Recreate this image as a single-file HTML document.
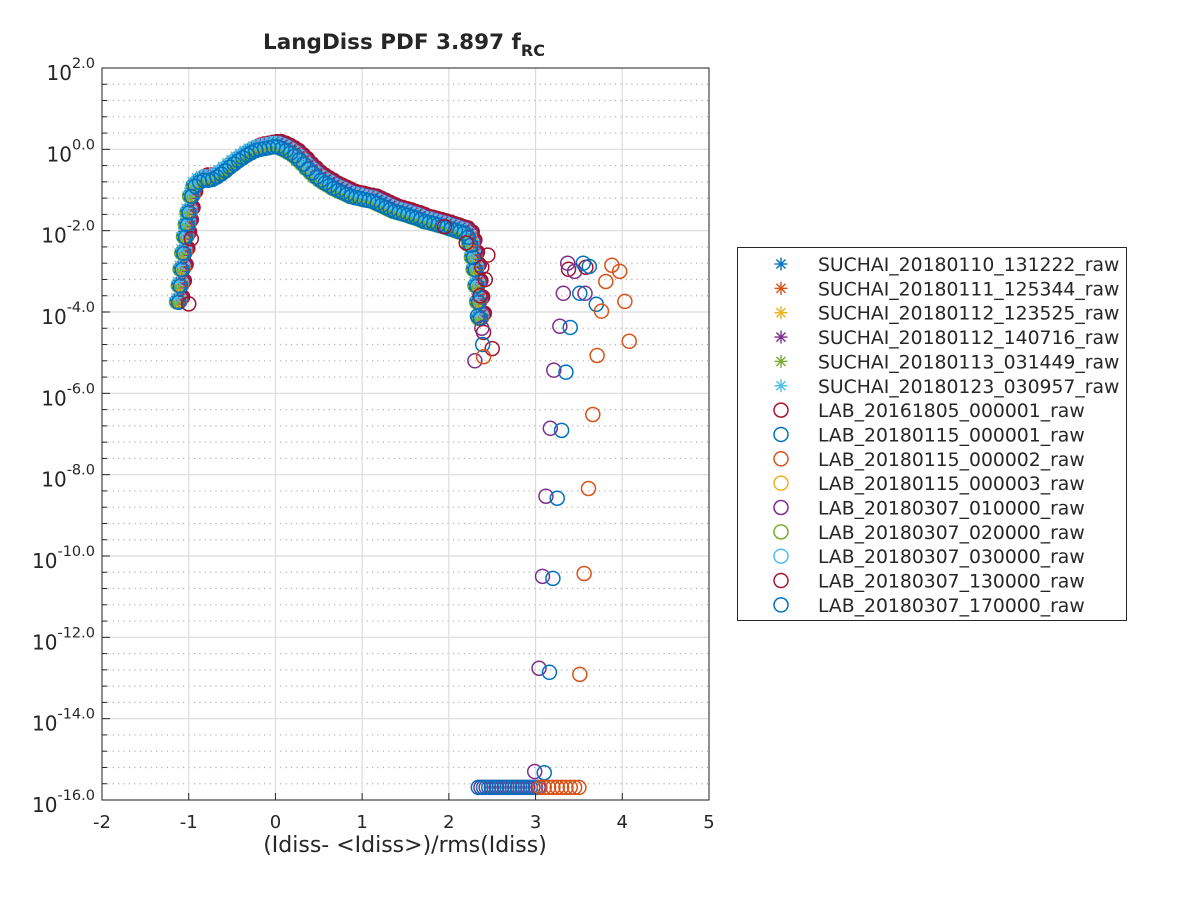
<!DOCTYPE html>
<html><head><meta charset="utf-8">
<style>
body{margin:0;background:#fff;width:1200px;height:900px;overflow:hidden;font-family:"DejaVu Sans","Liberation Sans",sans-serif}
svg text{font-family:"DejaVu Sans","Liberation Sans",sans-serif;fill:#262626}
</style></head>
<body>
<svg id="chart" width="1200" height="900" xmlns="http://www.w3.org/2000/svg">
<rect width="1200" height="900" fill="#fff"/>
<g id="grid"></g>
<g id="marks"></g>
<g id="axes"></g>
<text x="404" y="49" text-anchor="middle" font-size="21.5" font-weight="bold">LangDiss PDF 3.897 f<tspan font-size="16" dy="7">RC</tspan></text>
<text x="405" y="852" text-anchor="middle" font-size="22">(Idiss- &lt;Idiss&gt;)/rms(Idiss)</text>
<g id="legend"></g>
</svg>
<script>
const xTicks=[-2,-1,0,1,2,3,4,5];
const yTicks=[2,0,-2,-4,-6,-8,-10,-12,-14,-16];
const yTickLabels=["2.0","0.0","-2.0","-4.0","-6.0","-8.0","-10.0","-12.0","-14.0","-16.0"];
const seriesNames=["SUCHAI_20180110_131222_raw","SUCHAI_20180111_125344_raw","SUCHAI_20180112_123525_raw","SUCHAI_20180112_140716_raw","SUCHAI_20180113_031449_raw","SUCHAI_20180123_030957_raw","LAB_20161805_000001_raw","LAB_20180115_000001_raw","LAB_20180115_000002_raw","LAB_20180115_000003_raw","LAB_20180307_010000_raw","LAB_20180307_020000_raw","LAB_20180307_030000_raw","LAB_20180307_130000_raw","LAB_20180307_170000_raw"];
const seriesColors=["#0072BD","#D95319","#EDB120","#7E2F8E","#77AC30","#4DBEEE","#A2142F","#0072BD","#D95319","#EDB120","#7E2F8E","#77AC30","#4DBEEE","#A2142F","#0072BD"];
const seriesMarkers=["*","*","*","*","*","*","o","o","o","o","o","o","o","o","o"];
const baseX=[-1.12,-1.1,-1.08,-1.06,-1.04,-1.02,-1.0,-0.97,-0.93,-0.88,-0.83,-0.78,-0.73,-0.68,-0.63,-0.58,-0.53,-0.48,-0.43,-0.38,-0.33,-0.28,-0.23,-0.18,-0.13,-0.08,-0.03,0.02,0.07,0.12,0.17,0.22,0.27,0.32,0.37,0.42,0.47,0.52,0.57,0.62,0.67,0.72,0.77,0.82,0.87,0.92,0.97,1.02,1.07,1.12,1.17,1.22,1.27,1.32,1.37,1.42,1.47,1.52,1.57,1.62,1.67,1.72,1.77,1.82,1.87,1.92,1.97,2.02,2.07,2.12,2.17,2.22,2.25,2.28,2.3,2.32,2.34,2.36];
const baseY=[-3.7,-3.3,-2.9,-2.5,-2.1,-1.8,-1.5,-1.1,-0.85,-0.75,-0.7,-0.7,-0.68,-0.62,-0.55,-0.47,-0.38,-0.3,-0.22,-0.15,-0.08,-0.02,0.03,0.06,0.08,0.1,0.12,0.12,0.08,0.03,-0.03,-0.1,-0.2,-0.3,-0.42,-0.52,-0.62,-0.7,-0.77,-0.83,-0.9,-0.95,-1.0,-1.05,-1.1,-1.13,-1.15,-1.18,-1.2,-1.22,-1.27,-1.32,-1.37,-1.42,-1.47,-1.5,-1.53,-1.56,-1.6,-1.63,-1.67,-1.72,-1.74,-1.77,-1.8,-1.83,-1.86,-1.9,-1.93,-1.97,-2.0,-2.1,-2.3,-2.6,-2.9,-3.3,-3.7,-4.1];
const seriesDx=[0,0.02,-0.02,0.01,-0.03,-0.03,0.04,-0.01,0.02,0,0.03,-0.02,0.01,0.05,0.005];
const seriesDy=[0,0.03,-0.06,0.04,-0.08,0.05,0.05,-0.04,-0.03,0.01,0.03,-0.05,0.02,0.07,-0.06];
const purpleX=[3.37,3.45,3.32,3.57,3.28,3.21,3.17,3.12,3.08,3.04,2.99,2.3,2.38];
const purpleY=[-2.8,-3.0,-3.54,-3.54,-4.35,-5.43,-6.86,-8.53,-10.5,-12.76,-15.3,-5.2,-4.4];
const blueX=[3.55,3.62,3.51,3.7,3.4,3.35,3.3,3.25,3.2,3.16,3.1,2.39,2.33];
const blueY=[-2.8,-2.88,-3.54,-3.81,-4.38,-5.48,-6.91,-8.58,-10.55,-12.86,-15.33,-4.8,-4.1];
const orangeX=[3.88,3.97,3.81,3.76,4.03,4.08,3.71,3.66,3.61,3.56,3.51,2.4];
const orangeY=[-2.85,-3.0,-3.25,-3.98,-3.74,-4.72,-5.07,-6.52,-8.34,-10.43,-12.91,-5.1];
const redX=[2.45,2.38,2.42,2.36,2.4,2.5,3.38,3.58,-1.0,-0.97,2.2,1.95];
const redY=[-2.6,-2.9,-3.2,-3.6,-4.5,-4.9,-2.95,-2.9,-3.8,-2.2,-2.3,-1.9];
const bottomBlueX=[2.34,2.4,2.46,2.52,2.58,2.64,2.7,2.76,2.82,2.88,2.94,3.0];
const bottomPurpleX=[2.37,2.43,2.49,2.55,2.61,2.67,2.73,2.79,2.85,2.91,2.97,3.03];
const bottomOrangeX=[3.05,3.1,3.15,3.2,3.25,3.3,3.35,3.4,3.45,3.5];
const bottomLog=-15.69;

const X0=102,X1=709,Y0=68,Y1=800;
const xs=v=>X0+(v+2)/7*(X1-X0);
const ys=v=>Y0+(2-v)/18*(Y1-Y0);
const NS="http://www.w3.org/2000/svg";
function mk(tag,attrs,parent){const e=document.createElementNS(NS,tag);for(const k in attrs)e.setAttribute(k,attrs[k]);parent.appendChild(e);return e;}
const grid=document.getElementById('grid'),axes=document.getElementById('axes'),marks=document.getElementById('marks'),legend=document.getElementById('legend');
for(let v=2;v>=-16.001;v-=0.4){const y=ys(v);const major=Math.abs(v-Math.round(v))<1e-6&&Math.round(v)%2===0;
 if(!major){const l=mk('line',{x1:X0,x2:X1,y1:y,y2:y,stroke:'#b0b0b0','stroke-width':1.2,'stroke-dasharray':'1.2 4.2'},grid);
 mk('line',{x1:X0,x2:X0+5,y1:y,y2:y,stroke:'#262626','stroke-width':1},axes);}}
yTicks.forEach((v,i)=>{const y=ys(v);const l=mk('line',{x1:X0,x2:X1,y1:y,y2:y,stroke:'#dcdcdc','stroke-width':1.2},grid);
 mk('line',{x1:X0,x2:X0+8,y1:y,y2:y,stroke:'#262626','stroke-width':1},axes);
 const t=mk('text',{x:X0-7,y:y+12,'text-anchor':'end','font-size':20},axes);
 t.innerHTML='10<tspan font-size="14.5" dy="-12">'+yTickLabels[i]+'</tspan>';});
xTicks.forEach(v=>{const x=xs(v);const l=mk('line',{x1:x,x2:x,y1:Y0,y2:Y1,stroke:'#dcdcdc','stroke-width':1.2},grid);
 mk('line',{x1:x,x2:x,y1:Y1,y2:Y1-7,stroke:'#262626','stroke-width':1},axes);
 const t=mk('text',{x:x,y:Y1+28,'text-anchor':'middle','font-size':18},axes);t.textContent=v;});
const box=mk('rect',{x:X0,y:Y0,width:X1-X0,height:Y1-Y0,fill:'none',stroke:'#262626','stroke-width':1},axes);


function marker(parent,type,cx,cy,color,name){
 if(type==='o'){const c=mk('circle',{cx:cx,cy:cy,r:7,fill:'none',stroke:color,'stroke-width':1.5},parent);}
 else{const g=mk('g',{stroke:color,'stroke-width':1.4},parent);
  const r=6.5;mk('line',{x1:cx-r,x2:cx+r,y1:cy,y2:cy},g);mk('line',{x1:cx,x2:cx,y1:cy-r,y2:cy+r},g);
  const d=r*0.7;mk('line',{x1:cx-d,x2:cx+d,y1:cy-d,y2:cy+d},g);mk('line',{x1:cx-d,x2:cx+d,y1:cy+d,y2:cy-d},g);}
}
const order=[6,13,10,8,9,11,12,7,0,1,2,3,4,5,14];
order.forEach(s=>{const g=mk('g',{},marks);
 baseX.forEach((bx,i)=>marker(g,seriesMarkers[s],xs(bx+seriesDx[s]),ys(baseY[i]+seriesDy[s]),seriesColors[s],'data-point'));});
function scatter(X,Y,color,name){const g=mk('g',{},marks);
 X.forEach((x,i)=>marker(g,'o',xs(x),ys(Y[i]),color,'outlier-point'));}
scatter(redX,redY,'#A2142F','red-outliers');
scatter(purpleX,purpleY,'#7E2F8E','purple-outliers');
scatter(blueX,blueY,'#0072BD','blue-outliers');
scatter(orangeX,orangeY,'#D95319','orange-outliers');
scatter(bottomPurpleX,bottomPurpleX.map(()=>bottomLog),'#7E2F8E','bottom-purple');
scatter(bottomBlueX,bottomBlueX.map(()=>bottomLog),'#0072BD','bottom-blue');
scatter(bottomOrangeX,bottomOrangeX.map(()=>bottomLog),'#D95319','bottom-orange');

const lb=mk('rect',{x:737.5,y:247.5,width:389,height:373,fill:'#fff',stroke:'#262626','stroke-width':1},legend);

seriesNames.forEach((n,i)=>{const y=264+i*24.35;const g=mk('g',{},legend);
 marker(g,seriesMarkers[i],781,y,seriesColors[i],'legend-marker');
 const t=mk('text',{x:818,y:y+7,'font-size':18.8},g);t.textContent=n;});
</script>
</body></html>
